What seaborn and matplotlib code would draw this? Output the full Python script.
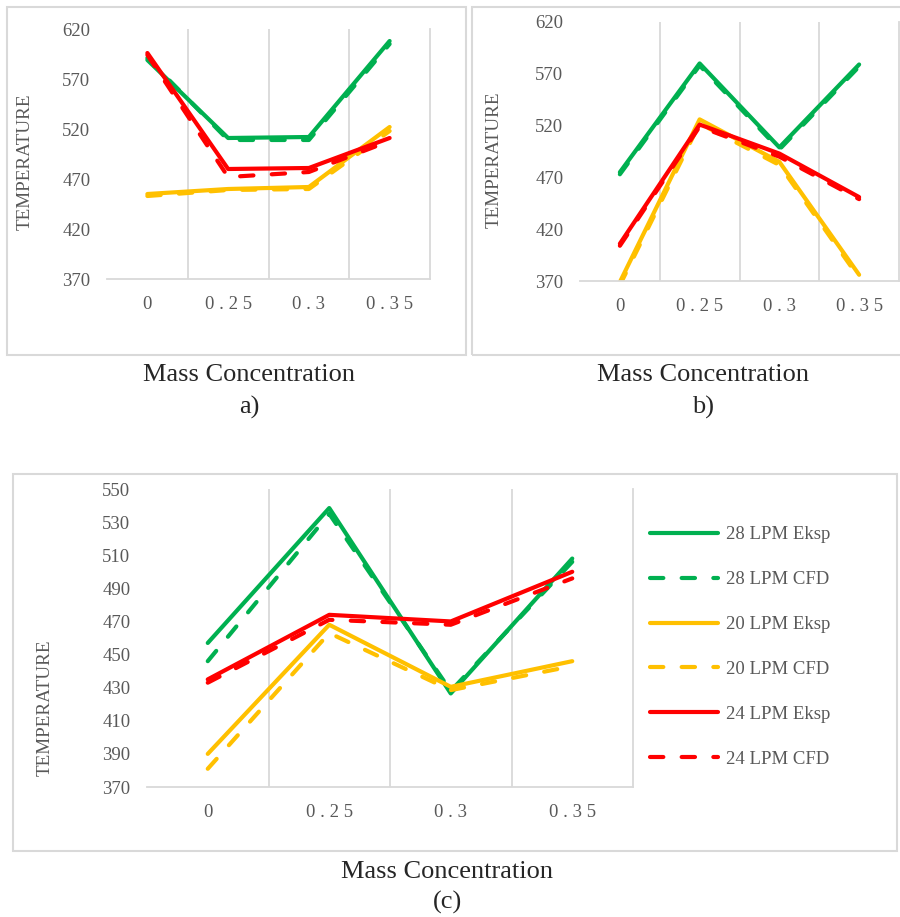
import matplotlib
matplotlib.use("Agg")
import matplotlib.pyplot as plt
from matplotlib.lines import Line2D
from matplotlib.patches import Rectangle
import seaborn as sns
import pandas as pd

# categories on the x axis
concentrations = ["0", "0.25", "0.3", "0.35"]
series_names = ["28 LPM Eksp", "28 LPM CFD", "20 LPM Eksp", "20 LPM CFD", "24 LPM Eksp", "24 LPM CFD"]

# panel a)
a_28_eksp = [589, 511, 512, 608]
a_28_cfd = [591, 509, 509, 605]
a_20_eksp = [455, 460, 462, 522]
a_20_cfd = [453, 459, 460, 518]
a_24_eksp = [596, 480, 481, 511]
a_24_cfd = [594, 472, 477, 508]

# panel b)
b_28_eksp = [475, 580, 499, 579]
b_28_cfd = [473, 578, 497, 577]
b_20_eksp = [369, 526, 485, 376]
b_20_cfd = [366, 522, 482, 373]
b_24_eksp = [406, 521, 493, 451]
b_24_cfd = [404, 519, 490, 449]

# panel (c)
c_28_eksp = [457, 538.5, 426.5, 508]
c_28_cfd = [446, 535, 428, 506]
c_20_eksp = [390, 468, 430.5, 446]
c_20_cfd = [381, 463, 428.5, 443]
c_24_eksp = [435, 474, 470, 500]
c_24_cfd = [433, 471, 468, 496]

sns.set_style("white")
plt.rcParams["font.family"] = ["Liberation Serif", "DejaVu Serif"]

W, H = 900, 917
GRAY = "#595959"
LIGHT = "#D9D9D9"
palette = {"28 LPM": "#00B050", "20 LPM": "#FFC000", "24 LPM": "#FF0000"}
dash_styles = {"Eksp": "", "CFD": (3.2, 4.4)}

fig = plt.figure(figsize=(W / 100, H / 100), dpi=100)


def px_axes(left, top, right, bottom):
    return fig.add_axes([left / W, 1 - bottom / H, (right - left) / W, (bottom - top) / H])


def to_long(values):
    rows = []
    for name, vals in zip(series_names, values):
        flow, kind = name.rsplit(" ", 1)
        for i, v in enumerate(vals):
            rows.append({"pos": i, "temp": v, "flow": flow, "kind": kind})
    return pd.DataFrame(rows)


def draw_panel(ax, values, ymin, ymax, step):
    df = to_long(values)
    sns.lineplot(data=df, x="pos", y="temp", hue="flow", style="kind",
                 hue_order=list(palette), style_order=["Eksp", "CFD"],
                 palette=palette, dashes=dash_styles, linewidth=3,
                 errorbar=None, legend=False, ax=ax,
                 solid_capstyle="round", dash_capstyle="round", solid_joinstyle="round")
    for g in [0.5, 1.5, 2.5]:
        ax.axvline(g, color=LIGHT, lw=1.3, zorder=0)
    ax.set_xlim(-0.5, 3.5)
    ax.set_ylim(ymin, ymax)
    ax.set_xticks(range(len(concentrations)))
    ax.set_xticklabels([" ".join(c) for c in concentrations])
    ax.set_yticks(range(ymin, ymax + 1, step))
    ax.tick_params(axis="both", length=0, labelsize=13.5, colors=GRAY)
    ax.tick_params(axis="y", pad=12)
    ax.tick_params(axis="x", pad=12)
    ax.set_xlabel("")
    ax.set_ylabel("")
    for side in ["top", "left"]:
        ax.spines[side].set_visible(False)
    for side in ["bottom", "right"]:
        ax.spines[side].set_color(LIGHT)
        ax.spines[side].set_linewidth(1.3)


def box(left, top, right, bottom):
    fig.add_artist(Rectangle((left / W, 1 - bottom / H), (right - left) / W, (bottom - top) / H,
                             transform=fig.transFigure, fill=False, ec=LIGHT, lw=1.5))


def ftext(x, y, s, **kw):
    fig.text(x / W, 1 - y / H, s, ha="center", va="center", **kw)


box(7, 7, 466, 355)
box(472, 7, 905, 355)
box(13, 474, 897, 851)

ax_a = px_axes(107, 29, 430, 279)
draw_panel(ax_a, [a_28_eksp, a_28_cfd, a_20_eksp, a_20_cfd, a_24_eksp, a_24_cfd], 370, 620, 50)
ax_b = px_axes(580, 22, 899, 281)
draw_panel(ax_b, [b_28_eksp, b_28_cfd, b_20_eksp, b_20_cfd, b_24_eksp, b_24_cfd], 370, 620, 50)
ax_c = px_axes(147, 489, 633, 787)
draw_panel(ax_c, [c_28_eksp, c_28_cfd, c_20_eksp, c_20_cfd, c_24_eksp, c_24_cfd], 370, 550, 20)

# axis titles, drawn in figure space like the original
ftext(25, 162, "TEMPERATURE", rotation=90, fontsize=13.8, color=GRAY)
ftext(494, 160, "TEMPERATURE", rotation=90, fontsize=13.8, color=GRAY)
ftext(45, 708, "TEMPERATURE", rotation=90, fontsize=13.8, color=GRAY)

ftext(249, 375, "Mass Concentration", fontsize=19)
ftext(249, 407, "a)", fontsize=19)
ftext(703, 375, "Mass Concentration", fontsize=19)
ftext(703, 407, "b)", fontsize=19)
ftext(447, 872, "Mass Concentration", fontsize=19)
ftext(447, 902, "(c)", fontsize=19)

handles = []
for name in series_names:
    flow, kind = name.rsplit(" ", 1)
    h = Line2D([], [], color=palette[flow], lw=3, solid_capstyle="round", dash_capstyle="round")
    if dash_styles[kind]:
        h.set_dashes(dash_styles[kind])
    handles.append(h)

fig.legend(handles, series_names, loc="center left", bbox_to_anchor=(650 / W, 1 - 647 / H),
           frameon=False, fontsize=13.5, labelcolor=GRAY, handlelength=3.6, handletextpad=0.45,
           labelspacing=1.48, borderpad=0, borderaxespad=0)

fig.savefig("out.png", dpi=100)
